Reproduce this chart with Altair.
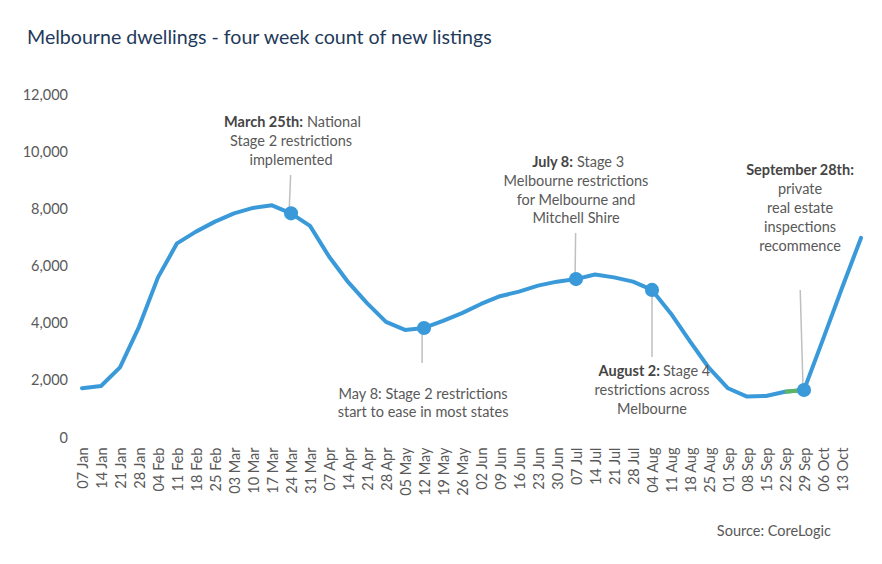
import altair as alt
import pandas as pd

# ---------------- data ----------------
weeks = ["07 Jan", "14 Jan", "21 Jan", "28 Jan", "04 Feb", "11 Feb", "18 Feb", "25 Feb",
         "03 Mar", "10 Mar", "17 Mar", "24 Mar", "31 Mar", "07 Apr", "14 Apr", "21 Apr",
         "28 Apr", "05 May", "12 May", "19 May", "26 May", "02 Jun", "09 Jun", "16 Jun",
         "23 Jun", "30 Jun", "07 Jul", "14 Jul", "21 Jul", "28 Jul", "04 Aug", "11 Aug",
         "18 Aug", "25 Aug", "01 Sep", "08 Sep", "15 Sep", "22 Sep", "29 Sep", "06 Oct",
         "13 Oct", "20 Oct"]
listings = [1740, 1820, 2470, 3890, 5620, 6810, 7220, 7570,
            7860, 8050, 8140, 7860, 7420, 6350, 5460, 4720,
            4060, 3780, 3850, 4100, 4370, 4690, 4960, 5120,
            5330, 5470, 5560, 5720, 5620, 5470, 5180, 4350,
            3380, 2450, 1740, 1450, 1470, 1620, 1680, 3450,
            5250, 7000]
axis_labels = weeks[:41]          # last week carries no label in the source
y_ticks = [0, 2000, 4000, 6000, 8000, 10000, 12000]
green_weeks = ["22 Sep", "29 Sep"]
marker_weeks = ["24 Mar", "12 May", "07 Jul", "04 Aug", "29 Sep"]

# annotations (x in week-index units, y in listings units)
ann_text = ["March 25th:", "National", "Stage 2 restrictions", "implemented",
            "May 8: Stage 2 restrictions", "start to ease in most states",
            "July 8:", "Stage 3", "Melbourne restrictions", "for Melbourne and", "Mitchell Shire",
            "August 2:", "Stage 4", "restrictions across", "Melbourne",
            "September 28th:", "private", "real estate", "inspections", "recommence"]
ann_x = [11.63, 11.84, 11.0, 11.0,
         17.95, 17.95,
         25.84, 26.05, 26.0, 26.0, 26.0,
         30.42, 30.58, 30.0, 30.0,
         37.79, 37.79, 37.79, 37.79, 37.79]
ann_y = [11020, 11020, 10356, 9691,
         1504, 875,
         9621, 9621, 8956, 8291, 7662,
         2309, 2309, 1644, 980,
         9341, 8676, 8012, 7347, 6682]
ann_kind = ["bold", "left", "center", "center",
            "center", "center",
            "bold", "left", "center", "center", "center",
            "bold", "left", "center", "center",
            "boldc", "center", "center", "center", "center"]

lead_x = [10.98, 17.9, 25.98, 30.0, 37.8]
lead_x2 = [10.9, 17.9, 25.95, 30.0, 37.95]
lead_y = [9200, 2620, 7170, 2830, 5180]
lead_y2 = [7870, 3850, 5560, 5180, 1750]

# ---------------- frames ----------------
df = pd.DataFrame({"i": list(range(len(weeks))), "week": weeks, "listings": listings})
df_green = df[df["week"].isin(green_weeks)]
df_mark = df[df["week"].isin(marker_weeks)]
ann = pd.DataFrame({"i": ann_x, "listings": ann_y, "t": ann_text, "k": ann_kind})
lead = pd.DataFrame({"i": lead_x, "x2": lead_x2, "listings": lead_y, "y2": lead_y2})

FONT = "Lato"
BLUE = "#3A9AD9"
TXT = "#595959"
FS = 14.5

label_expr = "[" + ",".join("'" + w + "'" for w in axis_labels) + "][datum.value]"

x_scale = alt.Scale(domain=[-0.5, len(weeks) - 0.5], nice=False, zero=False)
y_scale = alt.Scale(domain=[0, 12000], nice=False)

x_axis = alt.Axis(values=list(range(len(axis_labels))), labelExpr=label_expr,
                  labelAngle=270, ticks=False, domain=False, grid=False,
                  labelPadding=9, labelOffset=1, labelFont=FONT, labelFontSize=FS,
                  labelColor=TXT, labelOverlap=False, labelBound=False, labelFlush=False,
                  title="Source: CoreLogic", titleFont=FONT, titleFontSize=FS,
                  titleFontWeight="normal", titleColor=TXT, titleAlign="right",
                  titleX=758, titleY=93, titleBaseline="middle")
y_axis = alt.Axis(values=y_ticks, labelExpr="format(datum.value, ',')", ticks=False,
                  domain=False, grid=False, labelPadding=5, labelFont=FONT,
                  labelFontSize=FS, labelColor=TXT, title=None)

X = alt.X("i:Q", scale=x_scale, axis=x_axis)
Y = alt.Y("listings:Q", scale=y_scale, axis=y_axis)

line = alt.Chart(df).mark_line(color=BLUE, strokeWidth=4, strokeJoin="round",
                               strokeCap="round").encode(x=X, y=Y)
green = alt.Chart(df_green).mark_line(color="#5DB55F", strokeWidth=4).encode(x=X, y=Y)
leaders = alt.Chart(lead).mark_rule(color="#BFBFBF", strokeWidth=1.5).encode(
    x=X, x2="x2:Q", y=Y, y2="y2:Q")
markers = alt.Chart(df_mark).mark_circle(color=BLUE, size=200, opacity=1).encode(x=X, y=Y)


def text_layer(kinds, align, weight, color):
    return alt.Chart(ann[ann["k"].isin(kinds)]).mark_text(
        align=align, baseline="middle", font=FONT, fontSize=FS,
        fontWeight=weight, color=color).encode(x=X, y=Y, text="t:N")


t_bold = text_layer(["bold"], "right", "bold", "#454545")
t_boldc = text_layer(["boldc"], "center", "bold", "#454545")
t_left = text_layer(["left"], "left", "normal", TXT)
t_center = text_layer(["center"], "center", "normal", TXT)

chart = alt.layer(line, green, leaders, markers, t_bold, t_boldc, t_left, t_center).properties(
    width=798, height=343,
    padding={"left": 64.5, "top": 87, "right": 3, "bottom": 110},
    autosize=alt.AutoSizeParams(type="none"),
    title=alt.TitleParams(text="Melbourne dwellings - four week count of new listings",
                          anchor="start", frame="group", dx=-45.5, offset=38, font=FONT,
                          fontSize=19.6, fontWeight="normal", color="#1F3A5A"),
).configure_view(stroke=None)

chart.save("out.html", embed_options={"renderer": "svg", "actions": False})
